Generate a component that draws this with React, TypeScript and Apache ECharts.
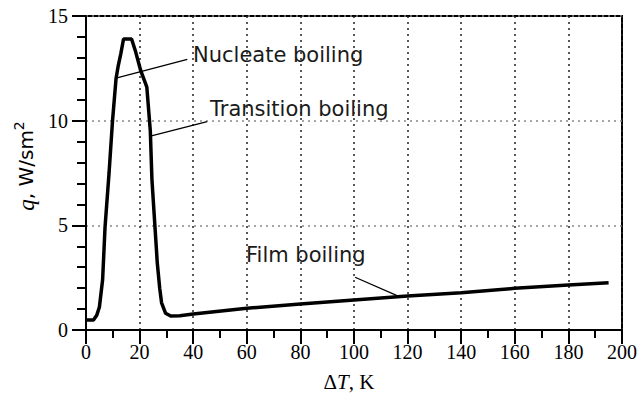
import React, { useEffect, useRef } from "react";
import * as echarts from "echarts";

// Boiling curve: superheat ΔT (K) vs heat flux q (W/sm²)
const deltaT = [0, 2.8, 4, 5, 6.2, 7.1, 8.6, 9.9, 11.2, 12, 13, 14, 17, 18.5, 20.4, 22.7, 24.0, 24.6, 25.7, 26.6, 27.5, 28.2, 29.7, 31.6, 35, 40, 60, 80, 100, 120, 140, 160, 180, 195];
const heatFlux = [0.48, 0.48, 0.7, 1.1, 2.4, 4.9, 7.5, 10.0, 12.0, 12.6, 13.2, 13.9, 13.9, 13.3, 12.4, 11.6, 9.5, 7.2, 5.0, 3.2, 2.0, 1.3, 0.8, 0.67, 0.68, 0.76, 1.04, 1.24, 1.43, 1.62, 1.78, 1.99, 2.15, 2.26];

const xTicks = { min: 0, max: 200, interval: 20 };
const yTicks = { min: 0, max: 15, interval: 5 };

// leader lines (data coordinates): [start, end]
const nucleateLeader = [[11.2, 12.03], [37.8, 12.93]];
const transitionLeader = [[24.4, 9.27], [45.2, 9.95]];
const filmLeader = [[100.4, 2.52], [116.5, 1.62]];

const annotationTexts = ["Nucleate boiling", "Transition boiling", "Film boiling"];

export default function App() {
  const ref = useRef<HTMLDivElement>(null);
  useEffect(() => {
    if (!ref.current) return;
    const chart = echarts.init(ref.current, null, { renderer: "svg" });
    const leaderData = [nucleateLeader, transitionLeader, filmLeader].map((l) => [
      { coord: l[0] },
      { coord: l[1] },
    ]);
    const annoPos = [
      [193, 55],
      [210, 109],
      [246, 255],
    ];
    chart.setOption({
      animation: false,
      backgroundColor: "#ffffff",
      grid: {
        left: 86,
        right: 17,
        top: 16,
        bottom: 73,
        show: true,
        borderColor: "#000",
        borderWidth: 2,
        backgroundColor: "transparent",
      },
      xAxis: {
        type: "value",
        min: xTicks.min,
        max: xTicks.max,
        interval: xTicks.interval,
        axisLine: { show: true, onZero: false, lineStyle: { color: "#000", width: 2 } },
        axisTick: { show: true, length: 14, lineStyle: { color: "#000", width: 2 } },
        minorTick: { show: true, splitNumber: 2, length: 8, lineStyle: { color: "#000", width: 2 } },
        splitLine: { show: true, lineStyle: { color: "#222", type: [2, 4], width: 1.5 } },
        axisLabel: {
          color: "#000",
          fontFamily: "Liberation Serif",
          fontSize: 20,
          margin: 12,
        },
      },
      yAxis: {
        type: "value",
        min: yTicks.min,
        max: yTicks.max,
        interval: yTicks.interval,
        axisLine: { show: true, onZero: false, lineStyle: { color: "#000", width: 2 } },
        axisTick: { show: true, length: 14, lineStyle: { color: "#000", width: 2 } },
        minorTick: { show: true, splitNumber: 5, length: 9, lineStyle: { color: "#000", width: 2 } },
        splitLine: { show: true, lineStyle: { color: "#888", type: [2, 4], width: 1.5 } },
        axisLabel: {
          color: "#000",
          fontFamily: "Liberation Serif",
          fontSize: 20,
          margin: 18,
        },
      },
      series: [
        {
          type: "line",
          data: deltaT.map((t, i) => [t, heatFlux[i]]),
          symbol: "none",
          lineStyle: { color: "#000", width: 3.5 },
          markLine: {
            silent: true,
            symbol: "none",
            label: { show: false },
            lineStyle: { color: "#000", width: 1.3, type: "solid" },
            data: leaderData,
          },
        },
      ],
      graphic: [
        ...annotationTexts.map((t, i) => ({
          type: "text",
          x: annoPos[i][0],
          y: annoPos[i][1],
          style: {
            text: t,
            fill: "#1a1a1a",
            font: "21px 'DejaVu Sans'",
            align: "left",
            verticalAlign: "middle",
          },
        })),
        {
          type: "text",
          x: 349,
          y: 382,
          style: {
            text: "{a|Δ}{b|T}{a|, K}",
            align: "center",
            verticalAlign: "middle",
            rich: {
              a: { fontFamily: "Liberation Serif", fontSize: 21, fill: "#000" },
              b: { fontFamily: "Liberation Serif", fontSize: 21, fontStyle: "italic", fill: "#000" },
            },
          },
        },
        {
          type: "text",
          x: 26,
          y: 166,
          rotation: Math.PI / 2,
          style: {
            text: "{q|q}{a|, W/sm}{s|2}",
            align: "center",
            verticalAlign: "middle",
            rich: {
              q: { fontFamily: "Liberation Serif", fontSize: 23, fontStyle: "italic", fill: "#000" },
              a: { fontFamily: "DejaVu Sans", fontSize: 20, fill: "#000" },
              s: { fontFamily: "DejaVu Sans", fontSize: 14, fill: "#000", verticalAlign: "top", lineHeight: 28 },
            },
          },
        },
      ],
    });
    return () => chart.dispose();
  }, []);
  return (
    <div
      ref={ref}
      style={{ position: "fixed", left: 0, top: 0, width: 640, height: 403 }}
    />
  );
}
